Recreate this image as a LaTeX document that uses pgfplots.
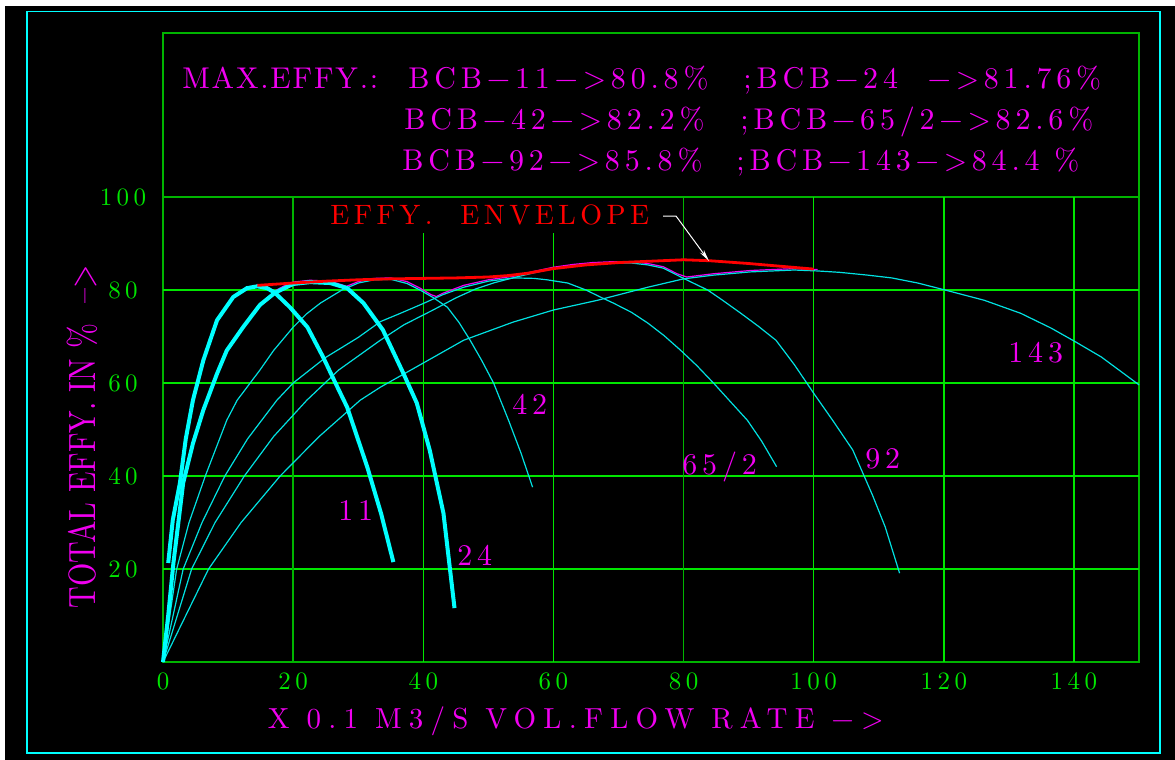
\documentclass[border=0pt]{standalone}
\usepackage{fontspec}
\setmainfont{lmroman10-regular.otf}
\newfontfamily\pfa{lmroman10-regular.otf}[LetterSpace=16]
\newfontfamily\pfb{lmroman10-regular.otf}[LetterSpace=25]
\newfontfamily\pfn{lmroman10-regular.otf}[LetterSpace=6]
\newfontfamily\pft{lmroman10-regular.otf}[LetterSpace=18]
\usepackage{pgfplots}
\pgfplotsset{compat=1.18}
\usetikzlibrary{arrows.meta}
\definecolor{cy}{RGB}{0,255,255}
\definecolor{cyt}{RGB}{0,225,225}
\definecolor{gr}{RGB}{0,230,0}
\definecolor{grd}{RGB}{0,180,0}
\definecolor{mg}{RGB}{240,0,240}
\definecolor{rd}{RGB}{255,0,0}
\newcommand\hdr{\pfa\fontsize{15bp}{17bp}\selectfont}
\newcommand\lbl{\pfa\fontsize{15bp}{17bp}\selectfont}
\begin{document}
\begin{tikzpicture}
\begin{scope}[x=0.5bp,y=-0.5bp]
\useasboundingbox (0,0) rectangle (1175,759);
\fill[white] (-20,-20) rectangle (1200,780);
\fill[black] (5,6) rectangle (1200,780);
\draw[cy, line width=0.75bp] (27,11.5) rectangle (1160,753);
\end{scope}
\begin{axis}[at={(81.5bp,-331bp)}, anchor=south west, scale only axis,
  width=488bp, height=314.5bp,
  xmin=0, xmax=150, ymin=0, ymax=135.27,
  axis line style={grd, line width=0.7bp},
  xtick={0,20,...,140}, ytick={20,40,60,80,100},
  major tick length=0pt,
  /pgf/number format/assume math mode=true,
  tick label style={text=gr, font=\pft\fontsize{12.5bp}{14bp}\selectfont},
  xticklabel style={anchor=center, yshift=-9.75bp},
  yticklabel style={anchor=center, xshift=-20bp},
  xlabel={X 0.1 M3/S VOL.FLOW RATE −>},
  xlabel style={at={(axis description cs:0.423,-0.094)}, anchor=center, text=mg, font=\pfb\fontsize{14.5bp}{16bp}\selectfont},
  ylabel={\scalebox{0.79}[1]{TOTAL EFFY. IN \%~~–>}},
  ylabel style={at={(axis description cs:-0.083,0.358)}, anchor=center, text=mg, font=\fontsize{19bp}{21bp}\selectfont},
  clip=false]
% grid
\draw[gr, line width=0.75bp] (axis cs:0,20) -- (axis cs:150,20);
\draw[gr, line width=0.75bp] (axis cs:0,40) -- (axis cs:150,40);
\draw[gr, line width=0.75bp] (axis cs:0,60) -- (axis cs:150,60);
\draw[gr, line width=0.75bp] (axis cs:0,80) -- (axis cs:150,80);
\draw[grd, line width=0.75bp] (axis cs:0,100) -- (axis cs:150,100);
\draw[grd, line width=0.75bp] (axis cs:20,0) -- (axis cs:20,100);
\draw[gr, line width=0.6bp] (axis cs:40,0) -- (axis cs:40,92.2);
\draw[gr, line width=0.6bp] (axis cs:60,0) -- (axis cs:60,92.2);
\draw[grd, line width=0.75bp] (axis cs:80,0) -- (axis cs:80,100);
\draw[gr, line width=0.75bp] (axis cs:100,0) -- (axis cs:100,100);
\draw[gr, line width=0.75bp] (axis cs:120,0) -- (axis cs:120,100);
\draw[gr, line width=0.75bp] (axis cs:140,0) -- (axis cs:140,100);
% magenta trace of the upper curve envelope
\addplot[mg, line width=0.6bp] coordinates {
(14.4,81.2) (15.5,80.8) (17.2,79.8) (18.5,80.8) (20,81.7) (22.6,82.1) (25.7,81.9) (27.3,81.2) (28.2,80.8) (30,81.8) (32.5,82.5) (35,82.6) (37.5,81.8) (39.5,80.4) (41.2,79.0) (42,78.6) (43,79.3) (46.2,81.0) (50,82.2) (54,83.0) (57,84.0) (60,84.9) (63,85.5) (66,85.9) (69.2,86.1) (72,86.1) (74.5,85.7) (76.9,85.0) (79,83.5) (80.5,82.8) (84.6,83.5) (90.3,84.2) (97,84.6) (100.6,84.4)};
% BCB-143
\addplot[cyt, line width=0.6bp] coordinates {
(0,0) (3.5,10) (7,20) (12,30) (18,40) (24,48.5) (30.3,56.3) (33.4,59.1) (40,64.3) (46.2,69.2) (53.8,73.1) (60,75.7) (66.8,77.8) (74.5,80.6) (80,82.4) (84.6,83.2) (90.3,83.9) (97,84.3) (100.6,84.1) (104,83.8) (108.3,83.2) (112,82.6) (116,81.5) (120.2,80) (126.2,77.8) (131.8,75) (136.5,71.8) (140.3,68.8) (144.2,65.6) (150,59.6)};
% BCB-92
\addplot[cyt, line width=0.6bp] coordinates {
(0,0) (4.4,20) (8,30) (12.5,40) (17,48.5) (22.1,56.3) (27,62.8) (33.4,69.2) (37,72.5) (41.5,75.7) (45,78.3) (48,80.2) (51,81.6) (54,82.7) (57,83.7) (60,84.6) (63,85.2) (66,85.6) (69.2,85.8) (72,85.8) (74.5,85.4) (76.9,84.7) (80,82.5) (83.7,80) (86,77.8) (88.8,75) (91.5,72.2) (94.2,69.2) (97,64) (100,57.8) (103,51.8) (106,45.6) (109,36) (111,29) (113.2,19.1)};
% BCB-65/2
\addplot[cyt, line width=0.6bp] coordinates {
(0,0) (3.1,20) (6,30) (9.5,40) (13,48) (17.5,56.3) (20,60) (25,65.5) (30,69.8) (33.4,73.2) (36.5,75) (40,77.1) (43,79) (46.2,80.6) (50,81.9) (54,82.6) (57,82.5) (59,82.2) (62.2,81.5) (65,80) (67.5,78.3) (69.2,77.2) (72,75.2) (74.5,72.9) (77,70.2) (79.5,67.1) (82,63.8) (84.6,60) (87,56.3) (89.8,52) (92,47.5) (94.3,42)};
% BCB-42
\addplot[cyt, line width=0.6bp] coordinates {
(0,0) (2.1,20) (4,30) (6.5,40) (9.8,52) (11.4,56.3) (14.9,62.8) (17,67) (20,72) (22,74.8) (24.2,77.2) (27.5,80) (30,81.5) (32.5,82.2) (35,82.3) (37.5,81.4) (39.5,80) (41.5,78.4) (43.7,76.3) (45.5,73) (47.2,69.2) (49,64.8) (50.8,60) (53.1,52) (55,45) (56.8,37.6)};
% BCB-24
\addplot[cy, line width=2bp] coordinates {
(0,0) (0.8,10) (1.6,21.3) (3.1,38.5) (4.6,47) (6.2,54.2) (8.3,62) (9.8,67) (12.3,72) (14.9,76.8) (17.2,79.4) (20,81.3) (22.6,81.7) (25.7,81.5) (28.3,80.4) (30.8,77.2) (33.8,71.4) (36.9,62.2) (39,55.7) (41,45.5) (43.1,32) (44.8,11.6)};
% BCB-11
\addplot[cy, line width=2bp] coordinates {
(0.8,21.3) (1.5,30.5) (2.6,38.5) (3.5,48) (4.6,56.3) (6.2,64.9) (8.3,73.5) (10.8,78.5) (12.9,80.4) (14.5,80.8) (16,80.4) (17.2,79.4) (19.5,76.3) (22.2,72) (24.6,65.6) (26.5,60) (28.3,54.8) (31.4,41.9) (33.5,32) (35.4,21.5)};
% efficiency envelope
\addplot[rd, line width=1.4bp] coordinates {
(14.5,81) (20,81.5) (25,81.9) (30,82.2) (35,82.4) (40,82.5) (45,82.6) (50,82.8) (53,83.1) (56,83.6) (60,84.6) (65,85.4) (70,85.9) (75,86.2) (80,86.5) (84,86.3) (90,85.7) (95,85.1) (100,84.5)};
\end{axis}
\begin{scope}[x=0.5bp,y=-0.5bp]
\draw[white, line width=0.5bp, -{Stealth[length=6bp,width=2.4bp]}] (663,216) -- (676,216) -- (709,261);
\node[anchor=base west, inner sep=0, text=mg, font=\pfn\fontsize{15bp}{17bp}\selectfont] at (182,88) {MAX.EFFY.:};
\node[anchor=base west, inner sep=0, text=mg, font=\hdr] at (408,88) {BCB−11−>80.8\%};
\node[anchor=base west, inner sep=0, text=mg, font=\hdr] at (743,88) {;BCB−24~~−>81.76\%};
\node[anchor=base west, inner sep=0, text=mg, font=\hdr] at (404,129) {BCB−42−>82.2\%};
\node[anchor=base west, inner sep=0, text=mg, font=\hdr] at (740,129) {;BCB−65/2−>82.6\%};
\node[anchor=base west, inner sep=0, text=mg, font=\hdr] at (402,170) {BCB−92−>85.8\%};
\node[anchor=base west, inner sep=0, text=mg, font=\hdr] at (736,170) {;BCB−143−>84.4 \%};
\node[anchor=base west, inner sep=0, text=rd, font=\pfa\fontsize{14bp}{16bp}\selectfont] at (330,224) {EFFY.~~ENVELOPE};
\node[anchor=base west, inner sep=0, text=mg, font=\lbl] at (338,520) {11};
\node[anchor=base west, inner sep=0, text=mg, font=\lbl] at (457,565) {24};
\node[anchor=base west, inner sep=0, text=mg, font=\lbl] at (512,414) {42};
\node[anchor=base west, inner sep=0, text=mg, font=\lbl] at (682,474) {65/2};
\node[anchor=base west, inner sep=0, text=mg, font=\lbl] at (865,468) {92};
\node[anchor=base west, inner sep=0, text=mg, font=\lbl] at (1008,362) {143};
\end{scope}
\end{tikzpicture}
\end{document}
